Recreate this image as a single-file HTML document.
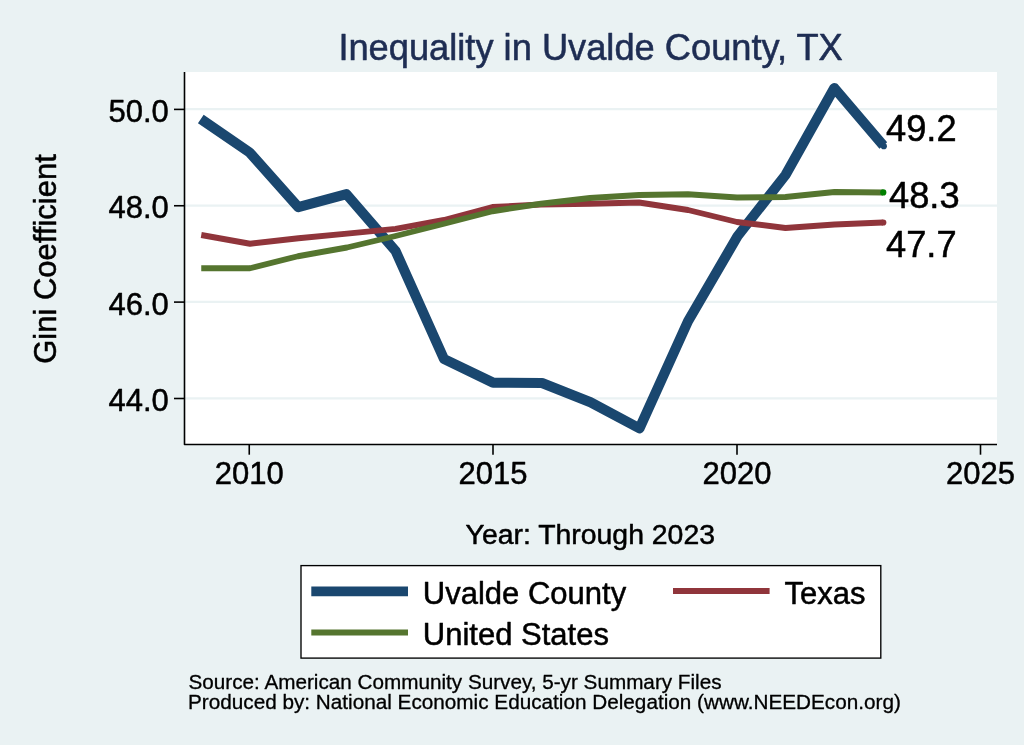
<!DOCTYPE html>
<html lang="en"><head><meta charset="utf-8"><title>Inequality in Uvalde County, TX</title>
<style>
html,body{margin:0;padding:0;background:#eaf2f3;}
body{width:1024px;height:745px;overflow:hidden;}
svg{display:block;}
text{font-family:"Liberation Sans", Arial, Helvetica, sans-serif;fill:#000;stroke:#000;stroke-width:0.5px;stroke-linejoin:round;}
</style></head><body>
<svg width="1024" height="745" viewBox="0 0 1024 745">
<rect x="0" y="0" width="1024" height="745" fill="#eaf2f3"/>
<rect x="184.5" y="72" width="812.5" height="372.5" fill="#ffffff"/>

<line x1="185" x2="997" y1="109.2" y2="109.2" stroke="#eaf2f3" stroke-width="2.3"/>
<line x1="185" x2="997" y1="205.55" y2="205.55" stroke="#eaf2f3" stroke-width="2.3"/>
<line x1="185" x2="997" y1="301.9" y2="301.9" stroke="#eaf2f3" stroke-width="2.3"/>
<line x1="185" x2="997" y1="398.3" y2="398.3" stroke="#eaf2f3" stroke-width="2.3"/>
<polyline points="200.80,119.00 249.50,152.40 298.25,207.20 346.50,194.20 395.60,251.00 444.00,359.00 493.00,382.60 542.00,383.00 590.50,402.30 639.50,428.40 688.00,321.25 737.50,236.25 785.50,175.00 834.30,88.00 883.30,145.60" fill="none" stroke="#1a476f" stroke-width="10.1" stroke-linejoin="round" stroke-linecap="butt"/>
<polyline points="201.25,235.00 250.00,243.75 298.50,238.20 347.00,233.60 395.50,228.90 444.00,220.00 492.50,207.00 541.00,204.50 590.00,203.75 639.00,202.50 688.00,210.00 737.00,222.00 785.50,228.00 834.50,224.50 883.00,222.50" fill="none" stroke="#90353b" stroke-width="5.9" stroke-linejoin="round" stroke-linecap="butt"/>
<polyline points="201.25,268.25 250.00,268.25 298.00,256.25 347.00,247.50 395.50,236.00 444.00,223.75 492.50,211.25 541.00,203.75 590.00,198.00 639.00,195.00 688.00,194.25 737.00,197.50 785.50,197.00 834.50,192.00 883.00,192.50" fill="none" stroke="#55752f" stroke-width="5.9" stroke-linejoin="round" stroke-linecap="butt"/>
<circle cx="883.8" cy="146.2" r="3.1" fill="#1a476f"/>
<circle cx="883.3" cy="222.5" r="3.1" fill="#90353b"/>
<circle cx="883.3" cy="192.4" r="3.1" fill="#008000"/>
<polyline points="184.5,72 184.5,444.5 997,444.5" fill="none" stroke="#000" stroke-width="1.6" stroke-linejoin="round"/>
<line x1="174" x2="184.5" y1="109.4" y2="109.4" stroke="#000" stroke-width="1.6"/>
<text x="168.8" y="121.9" font-size="31" text-anchor="end">50.0</text>
<line x1="174" x2="184.5" y1="205.75" y2="205.75" stroke="#000" stroke-width="1.6"/>
<text x="168.8" y="218.25" font-size="31" text-anchor="end">48.0</text>
<line x1="174" x2="184.5" y1="302.09999999999997" y2="302.09999999999997" stroke="#000" stroke-width="1.6"/>
<text x="168.8" y="314.59999999999997" font-size="31" text-anchor="end">46.0</text>
<line x1="174" x2="184.5" y1="398.5" y2="398.5" stroke="#000" stroke-width="1.6"/>
<text x="168.8" y="411.0" font-size="31" text-anchor="end">44.0</text>
<line x1="249.25" x2="249.25" y1="444.5" y2="454.7" stroke="#000" stroke-width="1.6"/>
<text x="249.25" y="483.7" font-size="31" text-anchor="middle">2010</text>
<line x1="493" x2="493" y1="444.5" y2="454.7" stroke="#000" stroke-width="1.6"/>
<text x="493" y="483.7" font-size="31" text-anchor="middle">2015</text>
<line x1="737" x2="737" y1="444.5" y2="454.7" stroke="#000" stroke-width="1.6"/>
<text x="737" y="483.7" font-size="31" text-anchor="middle">2020</text>
<line x1="980.5" x2="980.5" y1="444.5" y2="454.7" stroke="#000" stroke-width="1.6"/>
<text x="980.5" y="483.7" font-size="31" text-anchor="middle">2025</text>
<text x="590.6" y="60" font-size="36.25" text-anchor="middle" style="fill:#1e2d53;stroke:#1e2d53;stroke-width:0.55px">Inequality in Uvalde County, TX</text>
<text x="590.3" y="543.8" font-size="28.4" text-anchor="middle">Year: Through 2023</text>
<text transform="translate(56.2,259.0) rotate(-90)" font-size="31" text-anchor="middle">Gini Coefficient</text>
<text x="886" y="141" font-size="36.3">49.2</text>
<text x="889" y="207.9" font-size="36.3">48.3</text>
<text x="886" y="257.4" font-size="36.3">47.7</text>
<rect x="301" y="565.6" width="579.8" height="92.5" fill="#fff" stroke="#000" stroke-width="1.35"/>
<line x1="311.3" x2="408" y1="591.3" y2="591.3" stroke="#1a476f" stroke-width="9.8"/>
<line x1="673" x2="769.6" y1="591" y2="591" stroke="#90353b" stroke-width="6"/>
<line x1="311.3" x2="408" y1="632.4" y2="632.4" stroke="#55752f" stroke-width="6"/>
<text x="422.8" y="604.0" font-size="31">Uvalde County</text>
<text x="784.6" y="604.0" font-size="31">Texas</text>
<text x="422.8" y="645.0" font-size="31">United States</text>
<text x="188.5" y="688.8" font-size="20.69" style="stroke-width:0.32px">Source: American Community Survey, 5-yr Summary Files</text>
<text x="188" y="708.8" font-size="20.73" style="stroke-width:0.32px">Produced by: National Economic Education Delegation (www.NEEDEcon.org)</text>
</svg></body></html>
